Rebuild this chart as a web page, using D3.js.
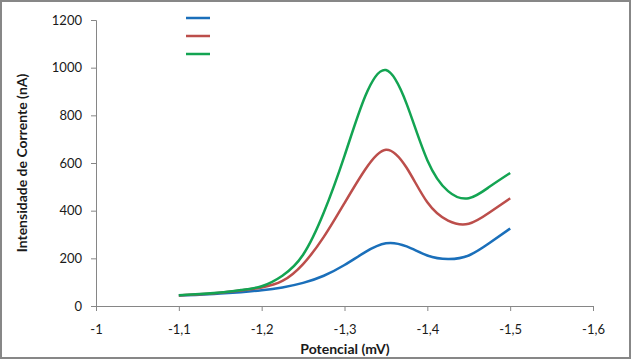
<!DOCTYPE html>
<html>
<head>
<meta charset="utf-8">
<script src="https://cdn.jsdelivr.net/npm/d3@7"></script>
<style>
html,body{margin:0;padding:0;background:#fff;}
svg{display:block;font-family:Lato,"Open Sans",sans-serif;}
</style>
</head>
<body>
<script>
const potentials = [-1.1,-1.125,-1.15,-1.175,-1.2,-1.225,-1.25,-1.275,-1.3,-1.325,-1.35,-1.375,-1.4,-1.425,-1.45,-1.475,-1.5];
const serieBlue  = [44,47,52,58,66,78,97,127,172,226,263,250,212,197,212,264,325];
const serieRed   = [44,49,56,65,78,105,176,290,432,573,656,580,435,358,345,392,452];
const serieGreen = [45,50,57,67,83,127,215,392,630,880,990,848,612,482,452,500,558];
const seriesNames = ["", "", ""];
const seriesColors = ["#1a6fba", "#bc4e4b", "#13a452"];
const xTicks = [-1,-1.1,-1.2,-1.3,-1.4,-1.5,-1.6];
const yTicks = [0,200,400,600,800,1000,1200];

const W = 632, H = 360;
const svg = d3.select("body").append("svg").attr("width", W).attr("height", H);

svg.append("rect").attr("x",1).attr("y",1).attr("width",W-3).attr("height",H-3)
  .attr("fill","#fff").attr("stroke","#878787").attr("stroke-width",2);

const x = d3.scaleLinear().domain([-1,-1.6]).range([96,593]);
const y = d3.scaleLinear().domain([0,1200]).range([306,20]);

const axisColor = "#868686";
const fmt = d => String(d).replace(".", ",");

const gx = svg.append("g").attr("transform","translate(0,306)")
  .call(d3.axisBottom(x).tickValues(xTicks).tickSize(5).tickFormat(fmt));
const gy = svg.append("g").attr("transform","translate(96,0)")
  .call(d3.axisLeft(y).tickValues(yTicks).tickSize(5).tickFormat(d=>d));
[gx,gy].forEach(g=>{
  g.selectAll("path,line").attr("stroke",axisColor);
  g.selectAll("text").attr("fill","#1a1a1a").style("font-size","13px").style("font-family","Lato,'Open Sans',sans-serif");
});
gx.selectAll("text").attr("dy","1.55em");
gy.selectAll("text").attr("x",-14);

const data = [serieBlue, serieRed, serieGreen];
const line = d3.line().x((d,i)=>x(potentials[i])).y(d=>y(d)).curve(d3.curveNatural);
data.forEach((s,k)=>{
  svg.append("path").datum(s).attr("d",line).attr("fill","none")
    .attr("stroke",seriesColors[k]).attr("stroke-width",2.5).attr("stroke-linejoin","round");
});

// legend (labels empty in original)
const lg = svg.append("g");
seriesNames.forEach((n,k)=>{
  const yy = 18 + k*18;
  lg.append("line").attr("x1",186).attr("x2",210).attr("y1",yy).attr("y2",yy)
    .attr("stroke",seriesColors[k]).attr("stroke-width",2.5);
  lg.append("text").attr("x",214).attr("y",yy+4).text(n).style("font-size","12px");
});

svg.append("text").attr("x",345).attr("y",354).attr("text-anchor","middle")
  .style("font-size","14px").style("font-weight","bold").attr("fill","#1a1a1a").text("Potencial (mV)");
svg.append("text").attr("transform","translate(27,163) rotate(-90)").attr("text-anchor","middle")
  .style("font-size","14px").style("font-weight","bold").attr("fill","#1a1a1a").text("Intensidade de Corrente (nA)");
</script>
</body>
</html>
